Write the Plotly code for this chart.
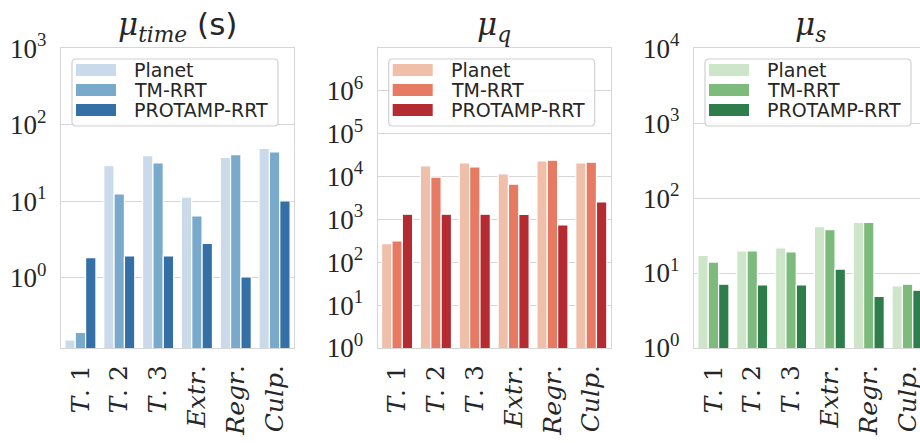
import plotly.graph_objects as go

# ---------------- data ----------------
categories = ["T. 1", "T. 2", "T. 3", "Extr.", "Regr.", "Culp."]
tick_labels = ["<i>T</i>. 1", "<i>T</i>. 2", "<i>T</i>. 3",
               "<i>Extr</i>.", "<i>Regr</i>.", "<i>Culp</i>."]
methods = ["Planet", "TM-RRT", "PROTAMP-RRT"]

time_planet = [0.153, 29.1, 39.3, 11.3, 37.4, 49.0]
time_tmrrt = [0.193, 12.4, 31.6, 6.4, 40.5, 44.0]
time_protamp = [1.83, 1.92, 1.92, 2.81, 1.02, 10.1]

q_planet = [270, 17500, 20500, 11400, 22900, 20500]
q_tmrrt = [312, 9530, 16600, 6530, 23700, 21300]
q_protamp = [1310, 1310, 1310, 1300, 736, 2530]

s_planet = [17.2, 19.8, 21.7, 41.5, 47.5, 6.74]
s_tmrrt = [14.0, 19.8, 19.2, 37.8, 47.5, 7.1]
s_protamp = [7.1, 6.95, 6.95, 11.3, 4.87, 5.9]

time_ticks = [1, 10, 100, 1000]
time_ticktext = ["10<sup>0</sup>", "10<sup>1</sup>", "10<sup>2</sup>", "10<sup>3</sup>"]
q_ticks = [1, 10, 100, 1000, 1e4, 1e5, 1e6]
q_ticktext = ["10<sup>0</sup>", "10<sup>1</sup>", "10<sup>2</sup>", "10<sup>3</sup>",
              "10<sup>4</sup>", "10<sup>5</sup>", "10<sup>6</sup>"]
s_ticks = [1, 10, 100, 1000, 1e4]
s_ticktext = ["10<sup>0</sup>", "10<sup>1</sup>", "10<sup>2</sup>", "10<sup>3</sup>", "10<sup>4</sup>"]

blues = ["#cadaeb", "#79aacc", "#3470a6"]
reds = ["#f0bfaa", "#e67a63", "#b42c32"]
greens = ["#cde5c8", "#7dbb7d", "#2e7d4a"]

# ---------------- layout helpers ----------------
W, H = 920, 443
def fx(p):
    return p / W
def fy(p):
    return 1 - p / H

PW = 233
lefts = [61, 377.7, 694]
TOP, BOT = 48, 348
GRID = "#d6d6d6"
TXT = "#262626"

panels = [
    dict(vals=[time_planet, time_tmrrt, time_protamp], cols=blues,
         ticks=time_ticks, ticktext=time_ticktext, yrange=[-0.92, 3.002],
         title="<i>μ</i><sub><i>time</i></sub> <span style='font-family:DejaVu Sans'>(s)</span>"),
    dict(vals=[q_planet, q_tmrrt, q_protamp], cols=reds,
         ticks=q_ticks, ticktext=q_ticktext, yrange=[0, 6.99],
         title="<i>μ</i><sub><i>q</i></sub>"),
    dict(vals=[s_planet, s_tmrrt, s_protamp], cols=greens,
         ticks=s_ticks, ticktext=s_ticktext, yrange=[0, 4.002],
         title="<i>μ</i><sub><i>s</i></sub>"),
]

fig = go.Figure()
shapes = []
annotations = []
layout_axes = {}

for i, p in enumerate(panels):
    n = "" if i == 0 else str(i + 1)
    xa, ya = "x" + n, "y" + n
    L = lefts[i]
    for m, v, c in zip(methods, p["vals"], p["cols"]):
        fig.add_trace(go.Bar(
            x=categories, y=v, name=m, xaxis=xa, yaxis=ya,
            marker=dict(color=c, line=dict(color="white", width=1.2)),
            showlegend=False,
        ))
    right_px = min(L + PW, W)
    xr_max = -0.5 + 6 * (right_px - L) / PW
    layout_axes["xaxis" + n] = dict(
        domain=[fx(L), fx(right_px)], anchor=ya,
        range=[-0.5, xr_max], type="category",
        tickvals=categories, ticktext=tick_labels, tickangle=-90,
        tickfont=dict(family="DejaVu Serif", size=25, color=TXT),
        showline=True, linecolor=GRID, linewidth=1.2, mirror=True,
        showgrid=False, ticks="", ticklabelstandoff=6, fixedrange=True,
        automargin=False,
    )
    layout_axes["yaxis" + n] = dict(
        domain=[fy(BOT), fy(TOP)], anchor=xa, type="log",
        range=p["yrange"], tickmode="array",
        tickvals=p["ticks"], ticktext=p["ticktext"],
        tickfont=dict(family="Liberation Serif", size=27, color=TXT),
        showline=True, linecolor=GRID, linewidth=1.2, mirror=(i < 2),
        showgrid=True, gridcolor=GRID, gridwidth=1.2,
        ticks="", ticklabelstandoff=8, zeroline=False, fixedrange=True,
        automargin=False,
    )
    # title
    annotations.append(dict(
        text=p["title"], x=fx(L + PW / 2), y=fy(27), xref="paper", yref="paper",
        xanchor="center", yanchor="middle", showarrow=False,
        font=dict(family="DejaVu Serif", size=31, color=TXT),
    ))
    # legend box (rounded)
    x0, x1, y0, y1, r = L + 11, L + 217, 59, 126, 4
    path = (f"M {fx(x0 + r)},{fy(y0)} L {fx(x1 - r)},{fy(y0)} "
            f"Q {fx(x1)},{fy(y0)} {fx(x1)},{fy(y0 + r)} "
            f"L {fx(x1)},{fy(y1 - r)} Q {fx(x1)},{fy(y1)} {fx(x1 - r)},{fy(y1)} "
            f"L {fx(x0 + r)},{fy(y1)} Q {fx(x0)},{fy(y1)} {fx(x0)},{fy(y1 - r)} "
            f"L {fx(x0)},{fy(y0 + r)} Q {fx(x0)},{fy(y0)} {fx(x0 + r)},{fy(y0)} Z")
    shapes.append(dict(type="path", path=path, xref="paper", yref="paper",
                       fillcolor="rgba(255,255,255,0.85)",
                       line=dict(color="#d0d0d0", width=1.2), layer="above"))
    for k, (m, c) in enumerate(zip(methods, p["cols"])):
        cy = 70 + 20 * k
        shapes.append(dict(type="rect", xref="paper", yref="paper",
                           x0=fx(L + 15), x1=fx(L + 55), y0=fy(cy - 6), y1=fy(cy + 6),
                           fillcolor=c, line=dict(width=0), layer="above"))
        annotations.append(dict(
            text=m, x=fx(L + 71), y=fy(cy), xref="paper", yref="paper",
            xanchor="left", yanchor="middle", showarrow=False,
            font=dict(family="DejaVu Sans", size=19, color=TXT),
        ))

fig.update_layout(
    width=W, height=H, margin=dict(l=0, r=0, t=0, b=0, pad=0),
    paper_bgcolor="white", plot_bgcolor="white",
    barmode="group", bargap=0.2, bargroupgap=0.0,
    shapes=shapes, annotations=annotations, showlegend=False,
    **layout_axes,
)

fig.write_html("out.html", config={"displayModeBar": False},
               post_script="document.body.style.margin='0';document.body.style.overflow='hidden';")
